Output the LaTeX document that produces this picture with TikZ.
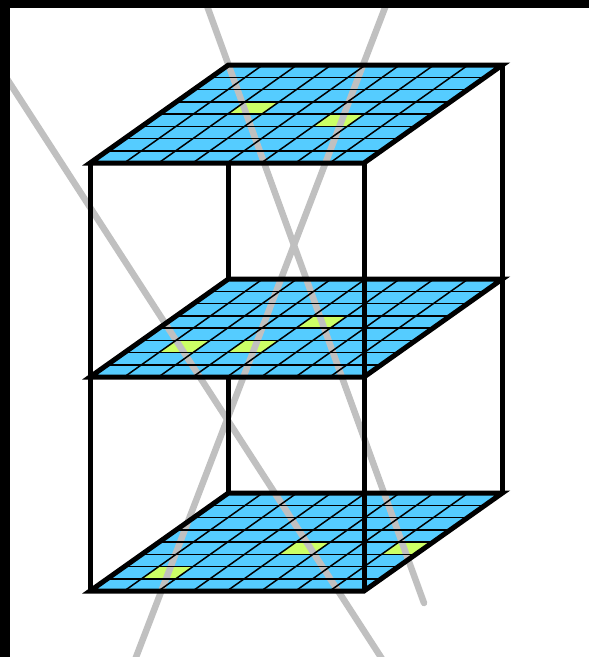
\documentclass[tikz,border=0pt]{standalone}
\usetikzlibrary{calc}
\definecolor{gridblue}{HTML}{55CCFF}
\definecolor{cellgreen}{HTML}{CCFF66}
\definecolor{raygray}{HTML}{C0C0C0}

\begin{document}
\begin{tikzpicture}[x=1pt, y=-1pt]
    \tikzstyle{plane} = [fill=gridblue]
    \tikzstyle{cell} = [fill=cellgreen]
    \tikzstyle{gridline} = [line width=1.5pt, black]
    \tikzstyle{planeedge} = [line width=5pt, black]
    \tikzstyle{edge} = [line width=5pt, black]
    \tikzstyle{ray} = [line width=6.5pt, raygray, line cap=round]

    \useasboundingbox (0,0) rectangle (589,657);
    \clip (0,0) rectangle (589,657);

    \foreach \name/\back/\cells in {top/65/{2/4,5/3}, mid/279/{1/2,3/2,4/4}, bot/493/{1/1,4/3,7/3}} {
        \begin{scope}[shift={(90,\back+98)}, x={(34.25pt,0pt)}, y={(17.3pt,12.25pt)}]
            \coordinate (\name FL) at (0,0);
            \coordinate (\name FR) at (8,0);
            \coordinate (\name BR) at (8,8);
            \coordinate (\name BL) at (0,8);
            \fill[plane] (\name FL) -- (\name FR) -- (\name BR) -- (\name BL) -- cycle;
            \foreach \c/\r in \cells {
                \fill[cell] (\c,\r) -- ++(1,0) -- ++(0,1) -- ++(-1,0) -- cycle;
            }
        \end{scope}
    }

    \coordinate (ray1 top) at (202,-8);
    \coordinate (ray1 end) at (424,603);
    \coordinate (ray2 top) at (391,-8);
    \coordinate (ray2 end) at (133,665);
    \coordinate (ray3 top) at (-44,0);
    \coordinate (ray3 end) at (386,665);
    \draw[ray] (ray1 top) -- (ray1 end);
    \draw[ray] (ray2 top) -- (ray2 end);
    \draw[ray] (ray3 top) -- (ray3 end);

    \foreach \name/\back in {top/65, mid/279, bot/493} {
        \begin{scope}[shift={(90,\back+98)}, x={(34.25pt,0pt)}, y={(17.3pt,12.25pt)}]
            \foreach \i in {1,...,7} {
                \draw[gridline] (0,\i) -- (8,\i);
                \draw[gridline] (\i,0) -- (\i,8);
            }
            \draw[planeedge] (\name FL) -- (\name FR) -- (\name BR) -- (\name BL) -- cycle;
        \end{scope}
    }

    \draw[edge] (topFL) -- (botFL);
    \draw[edge] (topFR) -- (botFR);
    \draw[edge] (topBR) -- (botBR);
    \draw[edge] (topBL |- topFL) -- (midBL);
    \draw[edge] (midBL |- midFL) -- (botBL);

    \fill[black] (0,0) rectangle (589,8);
    \fill[black] (0,0) rectangle (10,657);
\end{tikzpicture}
\end{document}
